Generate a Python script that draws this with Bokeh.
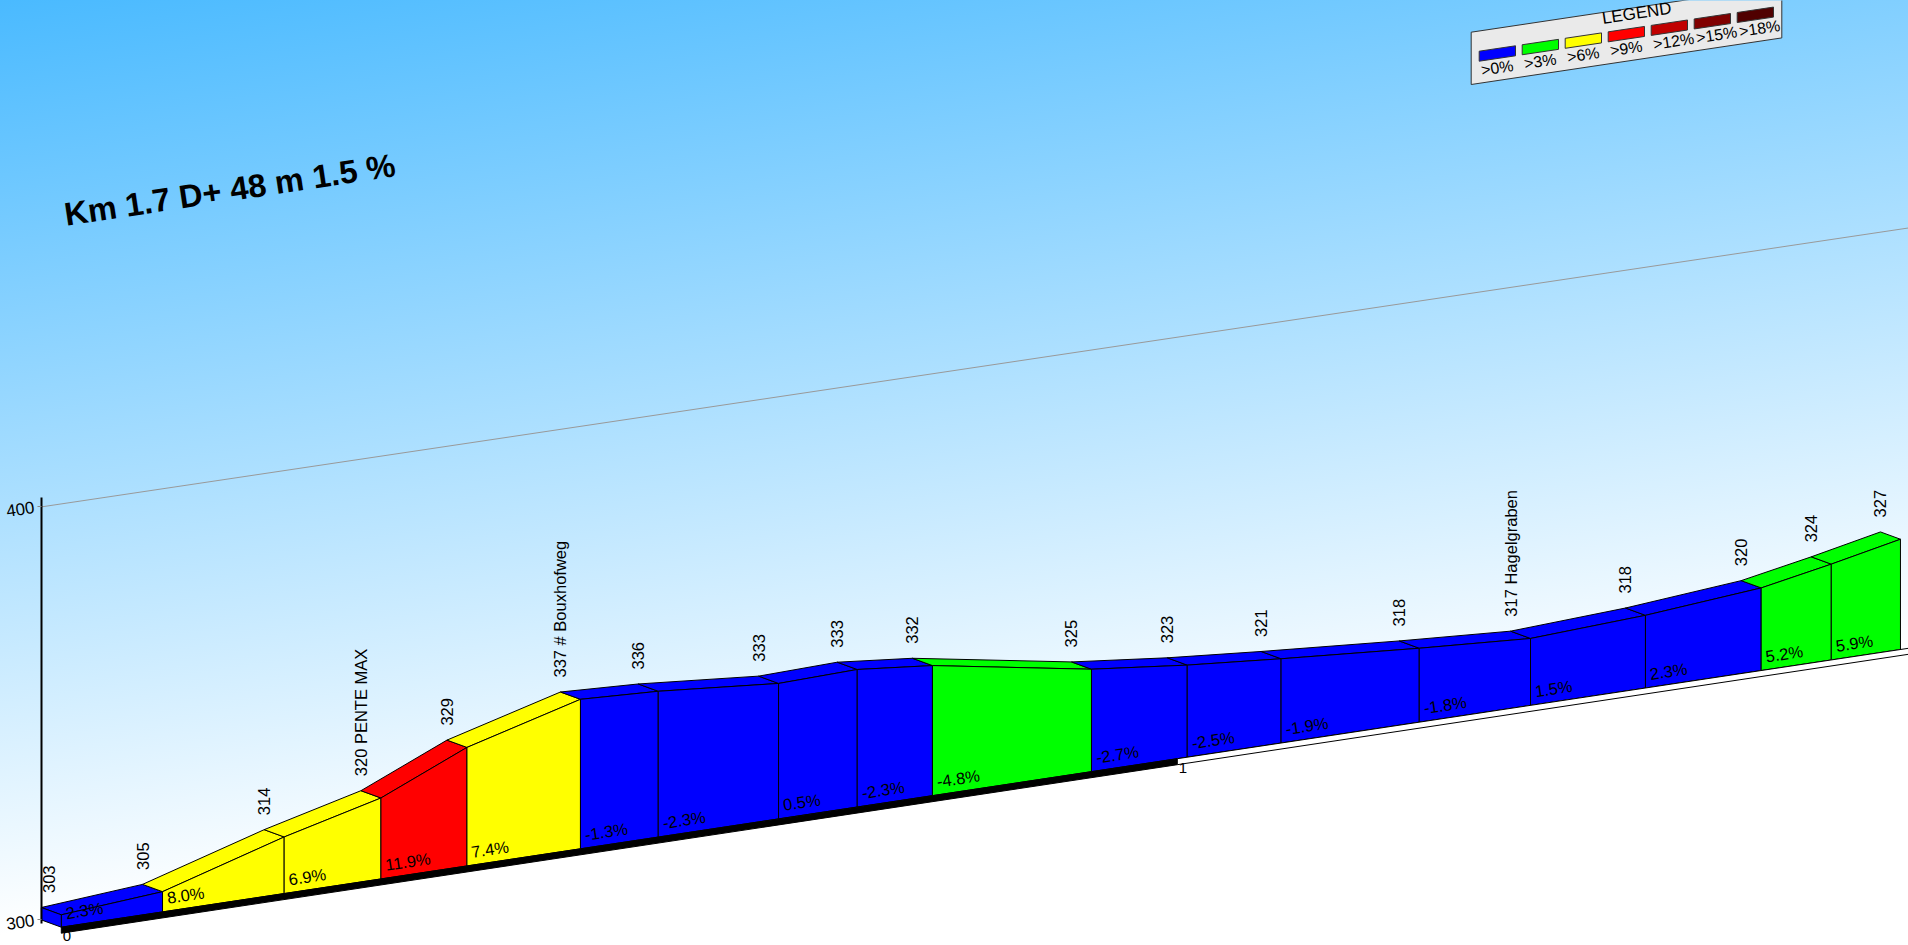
import math
from bokeh.plotting import figure
from bokeh.models import Range1d, LinearAxis, FixedTicker, ColumnDataSource
from bokeh.core.properties import value
from bokeh.embed import file_html
from bokeh.resources import INLINE

# ---- data ----
DIST_KM = [0, .0907, .1997, .2864, .3635, .4652, .5349, .6427, .7132, .7806, .9231,
           1.0089, 1.0930, 1.2168, 1.3165, 1.4195, 1.5232, 1.5860, 1.6480]
ALT_M = [303.0, 304.9, 313.7, 319.6, 328.7, 336.2, 335.3, 332.8, 333.3, 331.5, 324.8,
         322.3, 320.4, 317.9, 316.2, 317.6, 320.0, 323.2, 326.7]
ALT_LABELS = ["303", "305", "314", "320 PENTE MAX", "329", "337 # Bouxhofweg", "336", "333",
              "333", "332", "325", "323", "321", "318", "317 Hagelgraben", "318", "320", "324", "327"]
GRADES = [2.3, 8.0, 6.9, 11.9, 7.4, -1.3, -2.3, 0.5, -2.3, -4.8, -2.7, -2.5, -1.9, -1.8, 1.5, 2.3, 5.2, 5.9]
CLASS_COLORS = ["#0000FF", "#00FF00", "#FFFF00", "#FF0000", "#C00000", "#800000", "#500000"]
CLASS_LABELS = [">0%", ">3%", ">6%", ">9%", ">12%", ">15%", ">18%"]
TITLE = "Km 1.7 D+ 48 m 1.5 %"
LEGEND_TITLE = "LEGEND"
ALT_TICKS = [300, 400]
KM_TICKS = [0, 1]
BLACK_BAR_KM = 1.0
BAR_END_KM = 1.7
GRID_END_KM = 1.664
GRID_ALT = 400

# ---- oblique projection ----
W, H = 1908, 945
PX_KM = 1116.0      # horizontal pixels per km
PX_M = 4.13         # vertical pixels per metre
SHEAR = 40.8        # apparent rise of the ground, m per km
DEPTH_X = 20.0      # depth of the road, px
DEPTH_Y = 7.3
X_ORIGIN = 60.8     # px of km 0, front plane
Y_ORIGIN = 919.4    # px of 300 m at km 0, back plane
BASE = 300.0
ANGLE = math.atan(0.151)
FONT = value("Liberation Sans")


def X(d, depth=0.0):
    return d - depth * DEPTH_X / PX_KM


def Y(d, alt, depth=0.0):
    return alt + SHEAR * d + (depth - 1) * DEPTH_Y / PX_M


def sx(px):
    return (px - X_ORIGIN) / PX_KM


def sy(py):
    return BASE + (Y_ORIGIN - py) / PX_M


p = figure(width=W, height=H, output_backend="svg", toolbar_location=None,
           x_range=Range1d(sx(0), sx(W)), y_range=Range1d(sy(H), sy(0)),
           x_axis_location=None, y_axis_location=None, min_border=0,
           background_fill_color=None, border_fill_color=None, outline_line_color=None)
p.grid.visible = False
p.xgrid.visible = False
p.ygrid.visible = False
p.styles = {"position": "fixed", "left": "0", "top": "0",
            "background": "linear-gradient(171.5deg, #4ABAFF 0px, #FFFFFF 925px)"}

# 400 m reference line
p.line([X(0, 1), X(GRID_END_KM)], [Y(0, GRID_ALT, 1), Y(GRID_END_KM, GRID_ALT, 1)],
       line_color="#999999", line_width=1)

n = len(GRADES)
colors = [CLASS_COLORS[min(int(abs(g) // 3), len(CLASS_COLORS) - 1)] for g in GRADES]

# road surface
xs, ys = [], []
for i in range(n):
    a, b = DIST_KM[i], DIST_KM[i + 1]
    xs.append([X(a), X(b), X(b, 1), X(a, 1)])
    ys.append([Y(a, ALT_M[i]), Y(b, ALT_M[i + 1]), Y(b, ALT_M[i + 1], 1), Y(a, ALT_M[i], 1)])
p.patches(xs, ys, fill_color=colors, line_color="black", line_width=1)

# front faces
xs, ys = [], []
for i in range(n):
    a, b = DIST_KM[i], DIST_KM[i + 1]
    xs.append([X(a), X(b), X(b), X(a)])
    ys.append([Y(a, BASE), Y(b, BASE), Y(b, ALT_M[i + 1]), Y(a, ALT_M[i])])
p.patches(xs, ys, fill_color=colors, line_color="black", line_width=1)

# start face
p.patch([X(0, 1), X(0), X(0), X(0, 1)],
        [Y(0, BASE, 1), Y(0, BASE), Y(0, ALT_M[0]), Y(0, ALT_M[0], 1)],
        fill_color=colors[0], line_color="black", line_width=1)

# km bar under the profile
BAR = 6.0 / PX_M
p.patch([X(0), X(BLACK_BAR_KM), X(BLACK_BAR_KM), X(0)],
        [Y(0, BASE), Y(BLACK_BAR_KM, BASE), Y(BLACK_BAR_KM, BASE) - BAR, Y(0, BASE) - BAR],
        fill_color="black", line_color="black", line_width=1)
p.patch([X(BLACK_BAR_KM), X(BAR_END_KM), X(BAR_END_KM), X(BLACK_BAR_KM)],
        [Y(BLACK_BAR_KM, BASE), Y(BAR_END_KM, BASE), Y(BAR_END_KM, BASE) - BAR, Y(BLACK_BAR_KM, BASE) - BAR],
        fill_color="white", line_color="black", line_width=1)

# altitude axis, a real Bokeh axis standing on the back plane
axis = LinearAxis(fixed_location=X(0, 1), ticker=FixedTicker(ticks=ALT_TICKS), bounds=(299.2, 402.3),
                  axis_line_color="black", axis_line_width=2,
                  major_tick_line_color="#888888", major_tick_out=4, major_tick_in=0,
                  minor_tick_line_color=None, major_label_standoff=3,
                  major_label_orientation=ANGLE,
                  major_label_text_font="Liberation Sans", major_label_text_font_size="17px",
                  major_label_text_color="black")
p.add_layout(axis, "left")

# altitude labels (vertical, above the back edge)
lab_x = [X(d, 1) for d in DIST_KM]
lab_x[0] += 7.5 / PX_KM
src = ColumnDataSource(dict(x=lab_x, y=[Y(d, a, 1) for d, a in zip(DIST_KM, ALT_M)], t=ALT_LABELS))
p.text("x", "y", text="t", source=src, angle=math.pi / 2, text_align="left", text_baseline="middle",
       y_offset=-14.5, text_font=FONT, text_font_size="16.5px", text_color="black")

# grade labels
src = ColumnDataSource(dict(x=[X(d) for d in DIST_KM[:-1]], y=[Y(d, BASE) for d in DIST_KM[:-1]],
                            t=[f"{g:.1f}%" for g in GRADES]))
p.text("x", "y", text="t", source=src, angle=ANGLE, text_align="left", text_baseline="alphabetic",
       x_offset=4.5, y_offset=-14, text_font=FONT, text_font_size="16.5px", text_color="black")

# km labels
p.text([X(k) for k in KM_TICKS], [Y(k, BASE) for k in KM_TICKS], text=[str(k) for k in KM_TICKS],
       x_offset=5.5, y_offset=9, text_align="center", text_baseline="middle",
       text_font=FONT, text_font_size="15px", text_color="black")

# title
p.text([sx(64)], [sy(214)], text=[TITLE], angle=0.15, text_align="left", text_baseline="alphabetic",
       text_font=FONT, text_font_size="32.6px", text_font_style="bold", text_color="black")

# legend panel
SL = 0.15
lx0, ly0, lw, lh = 1470.7, 31.7, 310.6, 52.3
p.patch([sx(lx0), sx(lx0), sx(lx0 + lw), sx(lx0 + lw)],
        [sy(ly0), sy(ly0 + lh), sy(ly0 + lh - SL * lw), sy(ly0 - SL * lw)],
        fill_color="#EAEAEA", line_color="#333333", line_width=1)
sw_x, sw_y = [], []
lab_x, lab_y = [], []
for i in range(len(CLASS_COLORS)):
    x0 = 1478.7 + 43 * i
    y0 = 50.7 - 6.45 * i
    sw_x.append([sx(x0), sx(x0 + 36.3), sx(x0 + 36.3), sx(x0)])
    sw_y.append([sy(y0), sy(y0 - 5.4), sy(y0 + 4.6), sy(y0 + 10)])
    lab_x.append(sx(x0 + 2))
    lab_y.append(sy(y0 + 19))
p.patches(sw_x, sw_y, fill_color=CLASS_COLORS, line_color="#333333", line_width=1)
p.text(lab_x, lab_y, text=CLASS_LABELS, angle=ANGLE, text_align="left", text_baseline="alphabetic",
       text_font=FONT, text_font_size="16px", text_color="black")
p.text([sx(1601.7)], [sy(18)], text=[LEGEND_TITLE], angle=ANGLE, text_align="left", text_baseline="alphabetic",
       text_font=FONT, text_font_size="17px", text_color="black")

open("out.html", "w").write(file_html(p, INLINE))
